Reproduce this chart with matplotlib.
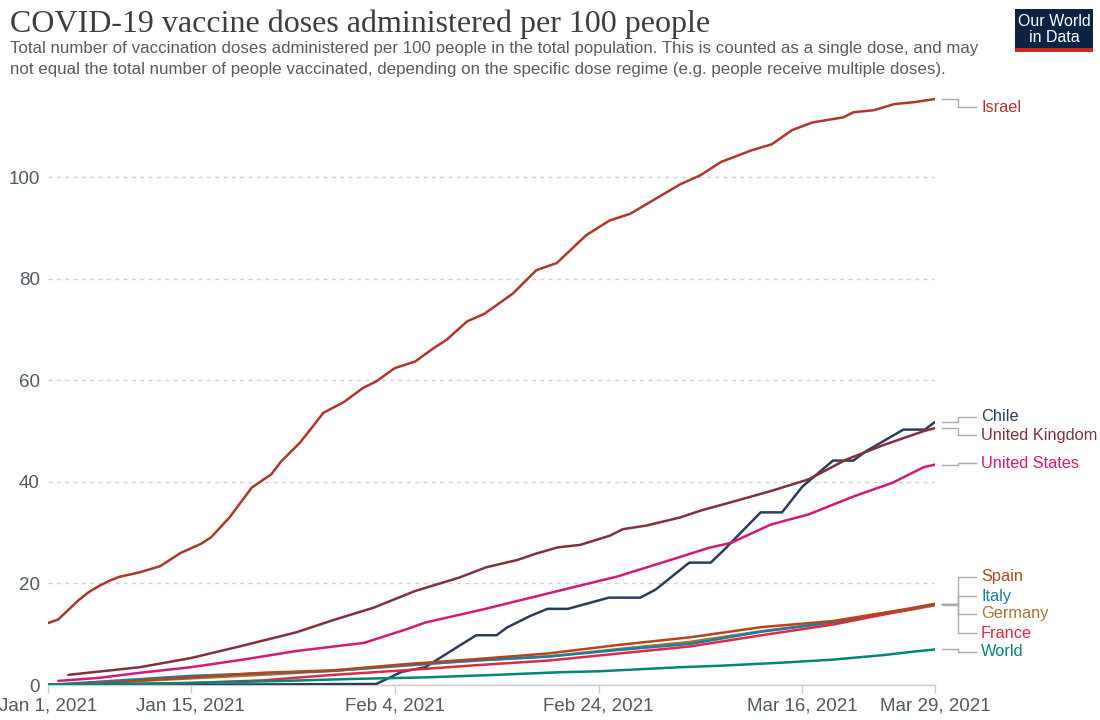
import numpy as np
import pandas as pd
import matplotlib
matplotlib.use("Agg")
import matplotlib.pyplot as plt
from matplotlib import transforms
from matplotlib.patches import Rectangle

# ---------------- data (day offsets from Jan 1, 2021; doses per 100) ----------------
START = pd.Timestamp("2021-01-01")
END = pd.Timestamp("2021-03-29")

israel_days = [0, 1, 2, 3, 4, 5, 6, 7, 9, 11, 13, 15, 16, 17.8, 20, 21.9, 22.9, 24.7, 26, 27,
               29, 30.9, 32.2, 34, 36, 37.8, 39.1, 41.1, 42.8, 45.6, 47.9, 49.9, 52.8, 55.1,
               57.1, 59.3, 62, 64, 66, 69, 71, 73, 75, 78, 79, 81, 83, 85, 87]
israel_vals = [12.2, 12.9, 14.8, 16.7, 18.3, 19.5, 20.5, 21.3, 22.2, 23.4, 26.0, 27.8, 29.1, 33.0,
               38.9, 41.5, 44.1, 47.7, 51.0, 53.6, 55.7, 58.5, 59.8, 62.4, 63.7, 66.3, 68.0, 71.6,
               73.1, 77.1, 81.7, 83.1, 88.6, 91.5, 92.8, 95.4, 98.6, 100.4, 103.0, 105.3, 106.5,
               109.3, 110.8, 111.8, 112.8, 113.2, 114.4, 114.8, 115.4]

chile_days = [0, 10, 20, 32.2, 34.7, 37, 40, 42, 44, 45, 47.3, 49, 51, 55, 58.1, 59.6, 62.9, 65,
              66.2, 69.9, 72, 74, 77, 79, 80.2, 83.9, 86, 87]
chile_vals = [0.0, 0.05, 0.1, 0.2, 2.6, 3.5, 7.3, 9.8, 9.8, 11.3, 13.6, 15.0, 15.0, 17.2, 17.2,
              18.8, 24.1, 24.1, 26.4, 34.0, 34.0, 39.1, 44.2, 44.2, 46.0, 50.3, 50.3, 51.8]

uk_days = [2, 9, 14, 18.8, 24.4, 28.0, 31.9, 36, 40.4, 43, 46, 47.9, 50, 52.2, 55.1, 56.4, 58.7,
           62, 64.1, 67, 70.9, 74.6, 78.3, 82, 85.9, 87]
uk_vals = [2.0, 3.5, 5.3, 7.6, 10.4, 12.8, 15.2, 18.5, 21.2, 23.2, 24.6, 25.9, 27.1, 27.6, 29.4,
           30.7, 31.4, 33.0, 34.4, 36.0, 38.2, 40.5, 44.4, 47.3, 50.0, 50.6]

us_days = [1, 5, 9, 14, 18.8, 24.4, 31, 35.2, 37, 42.7, 50.6, 55.9, 60.7, 64.8, 67, 70.9, 74.6,
           79.1, 82.8, 85.9, 87]
us_vals = [0.8, 1.4, 2.4, 3.5, 4.9, 6.7, 8.3, 11.0, 12.3, 14.9, 18.8, 21.4, 24.4, 27.0, 28.0,
           31.6, 33.6, 37.2, 39.8, 42.9, 43.4]

grp_days = [0, 7, 14, 21, 28, 35, 42, 49, 56, 63, 70, 77, 84, 87]
spain_vals = [0.0, 0.6, 1.5, 2.4, 2.9, 4.1, 5.1, 6.2, 7.9, 9.4, 11.4, 12.6, 14.9, 16.0]
italy_vals = [0.0, 0.9, 1.8, 2.3, 2.8, 3.9, 4.8, 5.6, 6.9, 8.1, 10.5, 12.3, 14.7, 15.9]
germany_vals = [0.0, 0.6, 1.3, 2.0, 2.8, 3.8, 4.9, 5.6, 7.1, 8.5, 10.6, 12.4, 14.6, 15.7]
france_vals = [0.0, 0.0, 0.4, 0.9, 2.0, 2.9, 3.9, 4.8, 6.2, 7.6, 9.8, 11.9, 14.7, 15.9]

world_days = [0, 14, 23, 30, 37, 44, 50, 54, 58, 62, 66, 72, 77, 82, 85, 87]
world_vals = [0.1, 0.4, 0.8, 1.2, 1.5, 2.0, 2.5, 2.7, 3.1, 3.5, 3.8, 4.4, 5.0, 5.9, 6.6, 7.0]

series = [
    ("Israel", israel_days, israel_vals, "#b0362c"),
    ("Chile", chile_days, chile_vals, "#2b3d5b"),
    ("United Kingdom", uk_days, uk_vals, "#82303c"),
    ("United States", us_days, us_vals, "#d31a78"),
    ("Germany", grp_days, germany_vals, "#a47535"),
    ("Italy", grp_days, italy_vals, "#1b7ea6"),
    ("France", grp_days, france_vals, "#e02a40"),
    ("Spain", grp_days, spain_vals, "#b4461b"),
    ("World", world_days, world_vals, "#00877a"),
]

# label layout positions (in data units of y)
label_y = {"Israel": 113.8, "Chile": 52.8, "United Kingdom": 49.2, "United States": 43.7,
           "Spain": 21.3, "Italy": 17.5, "Germany": 14.0, "France": 10.2, "World": 6.5}

yticks = [0, 20, 40, 60, 80, 100]
xtick_dates = ["2021-01-01", "2021-01-15", "2021-02-04", "2021-02-24", "2021-03-16", "2021-03-29"]
xtick_labels = ["Jan 1, 2021", "Jan 15, 2021", "Feb 4, 2021", "Feb 24, 2021", "Mar 16, 2021", "Mar 29, 2021"]

# ---------------- figure ----------------
plt.rcParams["font.family"] = ["Liberation Sans", "DejaVu Sans"]
W, H = 1100, 720
fig = plt.figure(figsize=(W / 100, H / 100), dpi=100)
ax_l, ax_r, ax_t, ax_b = 48, 935, 96, 685
ax = fig.add_axes([ax_l / W, 1 - ax_b / H, (ax_r - ax_l) / W, (ax_b - ax_t) / H])

for name, d, v, c in series:
    dates = START + pd.to_timedelta(np.array(d, dtype=float), unit="D")
    ax.plot(dates, v, color=c, lw=1.8, solid_joinstyle="round", solid_capstyle="round", zorder=3)

ax.set_xlim(START, END)
ax.set_ylim(0, 116)
ax.set_yticks(yticks)
ax.set_yticklabels([str(t) for t in yticks])
ax.set_xticks(pd.to_datetime(xtick_dates))
ax.set_xticklabels(xtick_labels)
ax.tick_params(axis="y", length=0, labelsize=13.5, labelcolor="#4e5b61", pad=6)
ax.tick_params(axis="x", length=6, width=1, color="#cccccc", labelsize=13.5, labelcolor="#4e5b61", pad=3)
for lbl in ax.get_xticklabels():
    lbl.set_horizontalalignment("center")
ax.grid(axis="y", color="#d2d2d2", linestyle=(0, (3, 3)), lw=1)
ax.grid(axis="x", visible=False)
for s in ["left", "right", "top"]:
    ax.spines[s].set_visible(False)
ax.spines["bottom"].set_color("#cccccc")
ax.spines["bottom"].set_linewidth(1)
ax.set_axisbelow(True)

# ---------------- labels with leader lines ----------------
axw = ax_r - ax_l
def fx(px):
    return (px - ax_l) / axw

tr = transforms.blended_transform_factory(ax.transAxes, ax.transData)
for name, d, v, c in series:
    y0 = v[-1]
    y1 = label_y[name]
    xs = [fx(942), fx(958), fx(958), fx(976)]
    ys = [y0, y0, y1, y1]
    ax.plot(xs, ys, transform=tr, color="#aaaaaa", lw=1, clip_on=False, zorder=2)
    ax.text(fx(981), y1, name, transform=tr, color=c, fontsize=11.8, va="center", ha="left",
            clip_on=False)

# ---------------- titles ----------------
fig.text(10 / W, 1 - 32 / H, "COVID-19 vaccine doses administered per 100 people",
         family=["Liberation Serif", "DejaVu Serif"], fontsize=23, color="#3d3d3d",
         va="baseline", ha="left")
fig.text(10 / W, 1 - 53 / H,
         "Total number of vaccination doses administered per 100 people in the total population. This is counted as a single dose, and may",
         fontsize=12.2, color="#5b5b5b", va="baseline", ha="left")
fig.text(10 / W, 1 - 74 / H,
         "not equal the total number of people vaccinated, depending on the specific dose regime (e.g. people receive multiple doses).",
         fontsize=12.2, color="#5b5b5b", va="baseline", ha="left")

# ---------------- logo ----------------
lx0, ly0, lw_, lh = 1015, 9, 78, 43
fig.patches.append(Rectangle((lx0 / W, 1 - (ly0 + lh) / H), lw_ / W, lh / H,
                             transform=fig.transFigure, facecolor="#0d2346", edgecolor="none"))
fig.patches.append(Rectangle((lx0 / W, 1 - (ly0 + lh) / H), lw_ / W, 4 / H,
                             transform=fig.transFigure, facecolor="#ce261e", edgecolor="none"))
fig.text((lx0 + lw_ / 2) / W, 1 - 22 / H, "Our World", color="white", fontsize=11.5,
         ha="center", va="center")
fig.text((lx0 + lw_ / 2) / W, 1 - 38 / H, "in Data", color="white", fontsize=11.5,
         ha="center", va="center")

fig.savefig("out.png", dpi=100, facecolor="white")
